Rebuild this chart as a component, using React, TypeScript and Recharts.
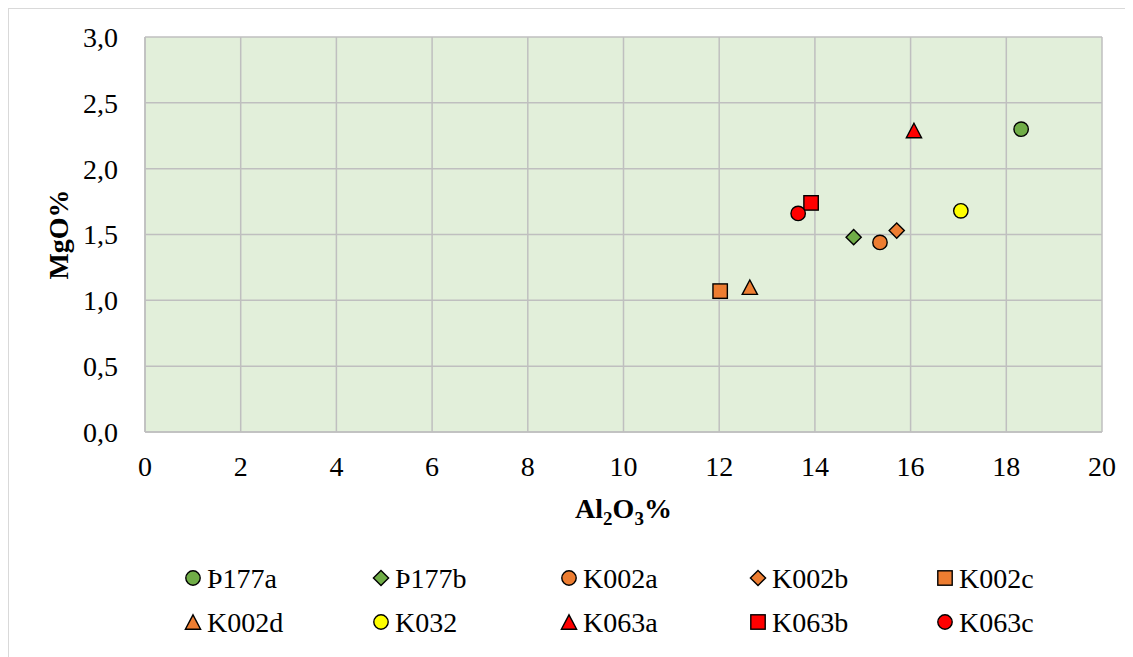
import React from "react";
import {
  ScatterChart,
  Scatter,
  XAxis,
  YAxis,
  CartesianGrid,
  Label,
} from "recharts";

// samples, in legend order
const sampleNames = ["Þ177a", "Þ177b", "K002a", "K002b", "K002c", "K002d", "K032", "K063a", "K063b", "K063c"];
const al2o3 = [18.31, 14.81, 15.36, 15.71, 12.02, 12.64, 17.05, 16.07, 13.92, 13.65];
const mgo = [2.3, 1.48, 1.44, 1.53, 1.07, 1.1, 1.68, 2.29, 1.74, 1.66];
const markerKinds = ["circle", "diamond", "circle", "diamond", "square", "triangle", "circle", "triangle", "square", "circle"];
const markerColors = ["#70AD47", "#70AD47", "#ED7D31", "#ED7D31", "#ED7D31", "#ED7D31", "#FFFF00", "#FF0000", "#FF0000", "#FF0000"];

const xTicks = [0, 2, 4, 6, 8, 10, 12, 14, 16, 18, 20];
const yTicks = [0, 0.5, 1, 1.5, 2, 2.5, 3];

const FONT = "Liberation Serif";
const GRID = "#BFBFBF";

function Marker({ kind, cx, cy, fill }: { kind: string; cx: number; cy: number; fill: string }) {
  const common = { fill, stroke: "#000", strokeWidth: 1.4 };
  if (kind === "circle") return <circle cx={cx} cy={cy} r={7.2} {...common} />;
  if (kind === "square") return <rect x={cx - 7.2} y={cy - 7.2} width={14.4} height={14.4} {...common} />;
  if (kind === "diamond") {
    const r = 7.6;
    return <polygon points={`${cx},${cy - r} ${cx + r},${cy} ${cx},${cy + r} ${cx - r},${cy}`} {...common} />;
  }
  const w = 7.6;
  const h = 7.2;
  return <polygon points={`${cx},${cy - h} ${cx + w},${cy + h} ${cx - w},${cy + h}`} {...common} />;
}

const series = sampleNames.map((name, i) => ({
  name,
  kind: markerKinds[i],
  color: markerColors[i],
  data: [{ x: al2o3[i], y: mgo[i] }],
}));

function XTitle(props: any) {
  const { x, y, width } = props.viewBox;
  return (
    <text x={x + width / 2} y={y + 86} textAnchor="middle" fontFamily={FONT} fontWeight="bold" fontSize={28} fill="#000">
      Al
      <tspan fontSize={19} dy={7}>2</tspan>
      <tspan dy={-7}>O</tspan>
      <tspan fontSize={19} dy={7}>3</tspan>
      <tspan dy={-7}>%</tspan>
    </text>
  );
}

function YTitle(props: any) {
  const { x, y, height } = props.viewBox;
  const cx = x + 49;
  const cy = y + height / 2;
  return (
    <text
      x={cx}
      y={cy}
      transform={`rotate(-90 ${cx} ${cy})`}
      textAnchor="middle"
      dy="0.35em"
      fontFamily={FONT}
      fontWeight="bold"
      fontSize={28}
      fill="#000"
    >
      MgO%
    </text>
  );
}

function LegendBlock() {
  const colX = [184, 372, 560, 749, 936];
  const rowY = [569, 613];
  return (
    <svg width={1120} height={640} style={{ position: "absolute", left: 0, top: 0, pointerEvents: "none" }}>
      {series.map((s, i) => {
        const cx = colX[i % 5];
        const cy = rowY[Math.floor(i / 5)];
        return (
          <g key={s.name}>
            <Marker kind={s.kind} cx={cx} cy={cy} fill={s.color} />
            <text x={cx + 14} y={cy} dy="0.35em" fontFamily={FONT} fontSize={28} fill="#000">
              {s.name}
            </text>
          </g>
        );
      })}
    </svg>
  );
}

const tickStyle = { fill: "#000", fontSize: 28, fontFamily: FONT };

export default function App() {
  return (
    <div
      style={{
        position: "relative",
        width: 1130,
        height: 660,
        borderTop: "1px solid #D9D9D9",
        borderLeft: "1px solid #D9D9D9",
        background: "#fff",
        fontFamily: FONT,
      }}
    >
      <ScatterChart width={1120} height={640} margin={{ top: 28, right: 27, bottom: 157, left: 0 }}>
        <CartesianGrid stroke={GRID} strokeWidth={1.5} fill="#E2EFDA" fillOpacity={1} />
        <XAxis
          type="number"
          dataKey="x"
          domain={[0, 20]}
          ticks={xTicks}
          interval={0}
          height={60}
          tickSize={0}
          tickMargin={24}
          axisLine={{ stroke: GRID, strokeWidth: 1.5 }}
          tickLine={false}
          tick={tickStyle}
        >
          <Label content={XTitle} />
        </XAxis>
        <YAxis
          type="number"
          dataKey="y"
          domain={[0, 3]}
          ticks={yTicks}
          interval={0}
          width={136}
          tickSize={0}
          tickMargin={27}
          axisLine={{ stroke: GRID, strokeWidth: 1.5 }}
          tickLine={false}
          tickFormatter={(v: number) => v.toFixed(1).replace(".", ",")}
          tick={tickStyle}
        >
          <Label content={YTitle} />
        </YAxis>
        {series.map((s) => (
          <Scatter
            key={s.name}
            name={s.name}
            data={s.data}
            isAnimationActive={false}
            shape={(p: any) => <Marker kind={s.kind} cx={p.cx} cy={p.cy} fill={s.color} />}
          />
        ))}
      </ScatterChart>
      <LegendBlock />
    </div>
  );
}
